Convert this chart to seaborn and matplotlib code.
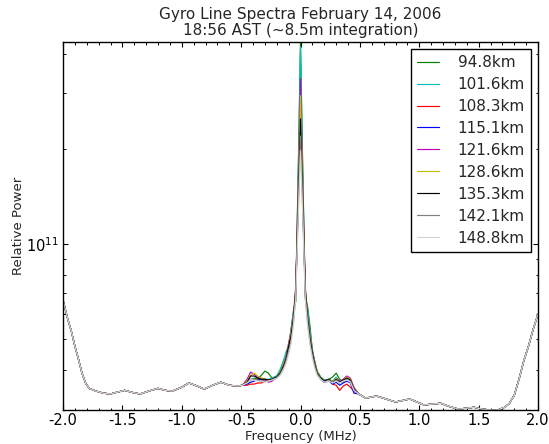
import numpy as np
import pandas as pd
import matplotlib
matplotlib.use("Agg")
import matplotlib.pyplot as plt
import seaborn as sns
from matplotlib.ticker import LogLocator, NullFormatter, MultipleLocator

# ---------------- data (relative power in units of 1e10) ----------------
labels = ["94.8km", "101.6km", "108.3km", "115.1km", "121.6km",
          "128.6km", "135.3km", "142.1km", "148.8km"]
colors = ["#008000", "#00BFBF", "#FF0000", "#0000FF", "#BF00BF",
          "#BFBF00", "#000000", "#808080", "#D3D3D3"]

# shared outer wings (all altitudes overlap there)
x_left = [-2.0, -1.96, -1.93, -1.90, -1.87, -1.84, -1.81, -1.78, -1.72, -1.66,
          -1.60, -1.55, -1.48, -1.42, -1.35, -1.28, -1.20, -1.14, -1.08, -1.00,
          -0.94, -0.87, -0.81, -0.74, -0.67, -0.60, -0.53, -0.49]
p_left = [6.66, 5.80, 5.31, 4.76, 4.33, 3.91, 3.64, 3.50, 3.43, 3.38,
          3.36, 3.40, 3.45, 3.40, 3.36, 3.43, 3.50, 3.45, 3.43, 3.53,
          3.64, 3.56, 3.48, 3.58, 3.66, 3.58, 3.56, 3.58]
x_right = [0.49, 0.55, 0.64, 0.72, 0.80, 0.87, 0.92, 0.98, 1.04, 1.10,
           1.18, 1.25, 1.33, 1.40, 1.46, 1.53, 1.60, 1.66, 1.72, 1.76,
           1.80, 1.84, 1.88, 1.92, 1.96, 2.00]
p_right = [3.36, 3.26, 3.31, 3.24, 3.17, 3.21, 3.24, 3.17, 3.10, 3.12,
           3.14, 3.07, 3.01, 3.03, 3.05, 3.01, 2.99, 2.99, 3.05, 3.14,
           3.33, 3.74, 4.27, 4.76, 5.39, 6.01]

# central region, per altitude
x_center = [-0.45, -0.42, -0.39, -0.36, -0.33, -0.30, -0.27, -0.24, -0.20, -0.17,
            -0.14, -0.12, -0.10, -0.08, -0.06, -0.04, -0.02, 0.0, 0.02, 0.04,
            0.06, 0.08, 0.10, 0.12, 0.14, 0.17, 0.20, 0.24, 0.27, 0.30,
            0.33, 0.36, 0.39, 0.42, 0.45]
p_948 = [3.64, 3.72, 3.77, 3.74, 3.85, 3.97, 3.91, 3.77, 3.83, 3.97,
         4.21, 4.43, 4.59, 5.31, 6.15, 6.61, 16.5, 43.6, 16.5, 6.86,
         6.33, 5.51, 4.59, 4.27, 3.97, 3.80, 3.72, 3.74, 3.80, 3.91,
         3.74, 3.66, 3.80, 3.72, 3.50]
p_1016 = [3.64, 3.74, 3.74, 3.72, 3.74, 3.74, 3.74, 3.77, 3.83, 4.03,
          4.33, 4.59, 4.76, 5.39, 6.06, 6.61, 15.9, 42.2, 15.9, 6.71,
          6.24, 5.31, 4.66, 4.21, 3.97, 3.77, 3.72, 3.74, 3.69, 3.80,
          3.69, 3.72, 3.80, 3.72, 3.50]
p_1083 = [3.58, 3.61, 3.61, 3.64, 3.64, 3.69, 3.72, 3.74, 3.80, 3.91,
          4.15, 4.36, 4.76, 5.12, 5.71, 7.11, 13.7, 27.4, 13.7, 7.11,
          5.80, 5.01, 4.52, 4.15, 3.91, 3.74, 3.66, 3.72, 3.61, 3.58,
          3.45, 3.56, 3.61, 3.53, 3.43]
p_1151 = [3.61, 3.66, 3.69, 3.74, 3.72, 3.72, 3.72, 3.72, 3.80, 3.91,
          4.15, 4.39, 4.76, 5.12, 5.80, 7.11, 13.2, 26.1, 13.2, 7.11,
          5.80, 5.01, 4.52, 4.15, 3.91, 3.74, 3.66, 3.69, 3.61, 3.66,
          3.58, 3.64, 3.69, 3.64, 3.38]
p_1216 = [3.74, 3.94, 3.88, 3.80, 3.77, 3.74, 3.66, 3.69, 3.80, 3.94,
          4.21, 4.43, 4.87, 5.31, 5.93, 7.38, 14.8, 33.4, 14.8, 7.38,
          5.93, 5.12, 4.59, 4.21, 3.94, 3.77, 3.69, 3.74, 3.66, 3.77,
          3.69, 3.74, 3.83, 3.77, 3.53]
p_1286 = [3.69, 3.85, 3.91, 3.83, 3.77, 3.74, 3.72, 3.74, 3.80, 3.94,
          4.21, 4.39, 4.80, 5.24, 5.88, 7.22, 14.2, 29.5, 14.2, 7.22,
          5.88, 5.09, 4.56, 4.18, 3.94, 3.77, 3.69, 3.74, 3.66, 3.77,
          3.66, 3.72, 3.80, 3.74, 3.50]
p_1353 = [3.66, 3.83, 3.83, 3.77, 3.74, 3.74, 3.72, 3.74, 3.80, 3.91,
          4.15, 4.36, 4.76, 5.12, 5.80, 7.11, 13.2, 24.9, 13.2, 7.11,
          5.80, 5.01, 4.52, 4.15, 3.91, 3.77, 3.69, 3.74, 3.64, 3.74,
          3.66, 3.72, 3.77, 3.72, 3.48]
p_1421 = [3.64, 3.74, 3.74, 3.72, 3.69, 3.69, 3.69, 3.72, 3.77, 3.88,
          4.09, 4.30, 4.59, 4.94, 5.63, 6.86, 12.3, 22.0, 12.3, 6.86,
          5.63, 4.87, 4.43, 4.09, 3.88, 3.74, 3.66, 3.72, 3.64, 3.72,
          3.64, 3.69, 3.74, 3.69, 3.45]
p_1488 = [3.64, 3.72, 3.72, 3.69, 3.69, 3.66, 3.69, 3.72, 3.77, 3.85,
          4.03, 4.21, 4.49, 4.83, 5.51, 6.71, 11.9, 19.8, 11.9, 6.71,
          5.51, 4.80, 4.36, 4.06, 3.85, 3.74, 3.66, 3.69, 3.64, 3.69,
          3.64, 3.69, 3.72, 3.66, 3.45]
center_series = [p_948, p_1016, p_1083, p_1151, p_1216, p_1286, p_1353, p_1421, p_1488]
UNIT = 1e10

# ---------------- assemble long table ----------------
rows = []
for lab, pc in zip(labels, center_series):
    xs = x_left + x_center + x_right
    ps = p_left + pc + p_right
    for xv, pv in zip(xs, ps):
        rows.append((lab, xv, pv * UNIT))
df = pd.DataFrame(rows, columns=["alt", "freq", "power"])

# ---------------- style ----------------
sns.set_style("ticks")
plt.rcParams.update({
    "font.family": ["DejaVu Sans"],
    "xtick.direction": "in", "ytick.direction": "in",
    "xtick.top": True, "ytick.right": True,
    "axes.edgecolor": "black", "axes.linewidth": 1.0,
    "xtick.color": "black", "ytick.color": "black",
    "xtick.major.size": 3.5, "ytick.major.size": 3.5,
    "xtick.minor.size": 1.8, "ytick.minor.size": 1.8,
    "xtick.major.width": 0.8, "ytick.major.width": 0.8,
    "xtick.minor.width": 0.7, "ytick.minor.width": 0.7,
    "xtick.major.pad": 2.5, "ytick.major.pad": 3.0,
})

fig = plt.figure(figsize=(5.49, 4.44), dpi=100)
ax = fig.add_axes([63/549, 1 - 410/444, (538 - 63)/549, (410 - 42)/444])

for lab, col in zip(labels, colors):
    sub = df[df["alt"] == lab]
    sns.lineplot(data=sub, x="freq", y="power", color=col, label=lab,
                 linewidth=0.85, ax=ax, sort=False, estimator=None)

ax.set_yscale("log")
ax.set_xlim(-2.0, 2.0)
ax.set_ylim(df["power"].min(), df["power"].max())
ax.xaxis.set_minor_locator(MultipleLocator(0.1))
ax.set_xticks([-2.0, -1.5, -1.0, -0.5, 0.0, 0.5, 1.0, 1.5, 2.0])
ax.set_xticklabels(["-2.0", "-1.5", "-1.0", "-0.5", "0.0", "0.5", "1.0", "1.5", "2.0"])
ax.yaxis.set_major_locator(LogLocator(base=10))
ax.yaxis.set_minor_locator(LogLocator(base=10, subs=np.arange(2, 10)))
ax.yaxis.set_minor_formatter(NullFormatter())
ax.tick_params(axis="both", which="both", labelsize=10.5)

ax.set_xlabel("Frequency (MHz)", fontsize=9.5, labelpad=1)
ax.set_ylabel("Relative Power", fontsize=9.5, labelpad=1)
ax.set_title("Gyro Line Spectra February 14, 2006\n18:56 AST (~8.5m integration)",
             fontsize=11, pad=5, linespacing=1.1)

leg = ax.legend(loc="upper right", fontsize=11, frameon=True, fancybox=False,
                edgecolor="black", framealpha=1.0, handlelength=1.45,
                handletextpad=1.2, labelspacing=0.455, borderpad=0.4,
                borderaxespad=0.45)
leg.get_frame().set_linewidth(1.0)

fig.savefig("out.png", dpi=100)
